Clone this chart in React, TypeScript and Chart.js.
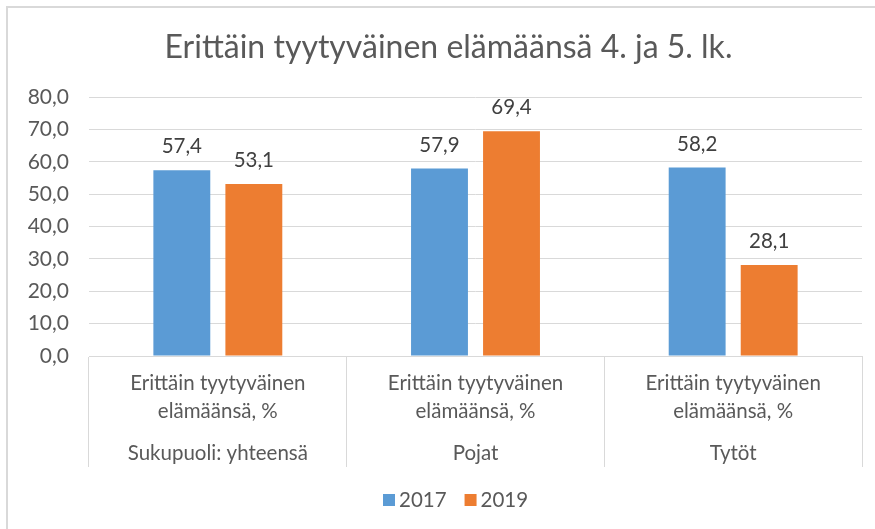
import React, { useEffect, useRef } from "react";
import { Chart, registerables } from "chart.js";

Chart.register(...registerables);

const titleText = "Erittäin tyytyväinen elämäänsä 4. ja 5. lk.";
const groups = ["Sukupuoli: yhteensä", "Pojat", "Tytöt"];
const measureLines = ["Erittäin tyytyväinen", "elämäänsä, %"];
const seriesNames = ["2017", "2019"];
const values2017 = [57.4, 57.9, 58.2];
const values2019 = [53.1, 69.4, 28.1];
const seriesColors = ["#5B9BD5", "#ED7D31"];
const yMin = 0;
const yMax = 80;
const yStep = 10;

const FONT = "Lato, 'Open Sans', sans-serif";
const fmt = (v: number) => v.toFixed(1).replace(".", ",");

const frame = {
  id: "frame",
  beforeDraw(chart: any) {
    const ctx = chart.ctx;
    ctx.save();
    ctx.strokeStyle = "#d9d9d9";
    ctx.lineWidth = 2;
    ctx.beginPath();
    ctx.moveTo(7, chart.height);
    ctx.lineTo(7, 7);
    ctx.lineTo(chart.width, 7);
    ctx.stroke();
    // title
    ctx.font = `32px ${FONT}`;
    ctx.fillStyle = "#595959";
    ctx.textAlign = "center";
    ctx.textBaseline = "middle";
    ctx.fillText(titleText, 448.5, 48);
    ctx.restore();
  },
};

const labelsPlugin = {
  id: "labelsPlugin",
  afterDatasetsDraw(chart: any) {
    const ctx = chart.ctx;
    ctx.save();
    ctx.font = `20.5px ${FONT}`;
    ctx.fillStyle = "#404040";
    ctx.textAlign = "center";
    ctx.textBaseline = "alphabetic";
    chart.data.datasets.forEach((ds: any, di: number) => {
      const meta = chart.getDatasetMeta(di);
      meta.data.forEach((bar: any, i: number) => {
        ctx.fillText(fmt(ds.data[i]), bar.x, bar.y - 17);
      });
    });
    // category axis labels
    const xs = chart.scales.x;
    const bottom = chart.chartArea.bottom;
    ctx.fillStyle = "#595959";
    ctx.textBaseline = "middle";
    groups.forEach((g, i) => {
      const x = xs.getPixelForValue(i);
      ctx.fillText(measureLines[0], x, bottom + 27);
      ctx.fillText(measureLines[1], x, bottom + 55);
      ctx.fillText(g, x, bottom + 97);
    });
    // legend
    ctx.font = `20.5px ${FONT}`;
    ctx.textAlign = "left";
    let lx = 383;
    const ly = 500;
    chart.data.datasets.forEach((ds: any) => {
      ctx.fillStyle = ds.backgroundColor;
      ctx.fillRect(lx, ly - 6, 12, 12);
      ctx.fillStyle = "#595959";
      ctx.fillText(ds.label, lx + 16, ly);
      lx += 16 + ctx.measureText(ds.label).width + 18;
    });
    ctx.restore();
  },
};

export default function App() {
  const ref = useRef<HTMLCanvasElement>(null);
  useEffect(() => {
    const chart = new Chart(ref.current as HTMLCanvasElement, {
      type: "bar",
      data: {
        labels: groups,
        datasets: [
          { label: seriesNames[0], data: values2017, backgroundColor: seriesColors[0] },
          { label: seriesNames[1], data: values2019, backgroundColor: seriesColors[1] },
        ],
      },
      options: {
        animation: false,
        responsive: false,
        maintainAspectRatio: false,
        layout: { padding: { top: 97, left: 0, right: 13, bottom: 48.5 } },
        datasets: { bar: { categoryPercentage: 0.559, barPercentage: 0.79 } },
        scales: {
          x: {
            grid: { offset: true, drawOnChartArea: false, tickLength: 111, color: "#d9d9d9", lineWidth: 1 },
            border: { display: true, color: "#d9d9d9", width: 1 },
            ticks: { display: false },
            afterFit: (s: any) => { s.height = 124.5; },
          },
          y: {
            min: yMin,
            max: yMax,
            ticks: {
              stepSize: yStep,
              padding: 20,
              color: "#595959",
              font: { family: FONT, size: 21 },
              callback: (v: any) => fmt(Number(v)),
            },
            grid: { color: "#d9d9d9", drawTicks: false, lineWidth: 1 },
            border: { display: false },
            afterFit: (s: any) => { s.width = 89; },
          },
        },
        plugins: {
          title: { display: false },
          legend: { display: false },
          tooltip: { enabled: false },
        },
      },
      plugins: [frame, labelsPlugin],
    });
    return () => chart.destroy();
  }, []);
  return (
    <div style={{ position: "fixed", left: 0, top: 0, width: 875, height: 529, background: "#fff" }}>
      <canvas ref={ref} width={875} height={529} style={{ width: 875, height: 529 }} />
    </div>
  );
}
